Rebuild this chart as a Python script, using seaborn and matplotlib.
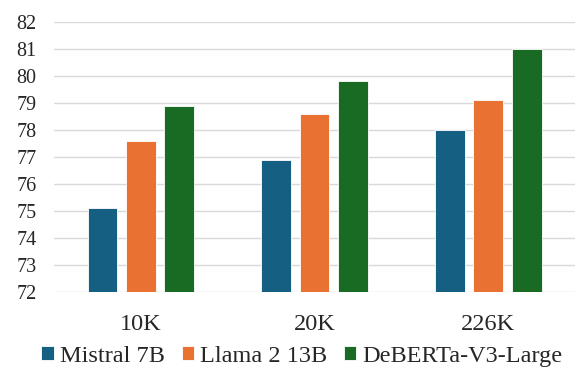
import pandas as pd
import matplotlib.pyplot as plt
import seaborn as sns

# data
sizes = ['10K', '20K', '226K']
models = ['Mistral 7B', 'Llama 2 13B', 'DeBERTa-V3-Large']
mistral = [75.1, 76.9, 78.0]
llama = [77.6, 78.6, 79.1]
deberta = [78.9, 79.8, 81.0]
colors = ['#156082', '#E97132', '#196B24']

rows = []
for m, vals in zip(models, [mistral, llama, deberta]):
    for s, v in zip(sizes, vals):
        rows.append({'size': s, 'model': m, 'score': v})
df = pd.DataFrame(rows)

sns.set_style('white')
plt.rcParams['font.family'] = ['Liberation Serif', 'DejaVu Serif']

fig = plt.figure(figsize=(5.75, 3.72), dpi=100)
ax = fig.add_axes([0.094, 0.215, 0.906, 0.726])
sns.barplot(data=df, x='size', y='score', hue='model', palette=colors,
            width=0.663, gap=0.22, edgecolor='white', linewidth=0.6,
            saturation=1, ax=ax, zorder=3)
ax.set_ylim(72, 82)
ax.set_xlim(-0.5, 2.5)
ax.set_yticks(range(72, 83))
ax.yaxis.grid(True, color='#d9d9d9', linewidth=1, zorder=0)
ax.set_axisbelow(True)
for s in ax.spines.values():
    s.set_visible(False)
ax.tick_params(axis='y', length=0, pad=12.5, labelsize=14.5)
ax.tick_params(axis='x', length=0, pad=16, labelsize=17.5)
ax.set_xlabel('')
ax.set_ylabel('')

handles, labels = ax.get_legend_handles_labels()
ax.legend_.remove()
fig.legend(handles, labels, loc='lower center', ncol=3, frameon=False,
           fontsize=17.5, bbox_to_anchor=(0.525, -0.025),
           handlelength=0.5, handleheight=0.5, handletextpad=0.25,
           columnspacing=0.7, borderaxespad=0.2)

plt.savefig('out.png', dpi=100)
